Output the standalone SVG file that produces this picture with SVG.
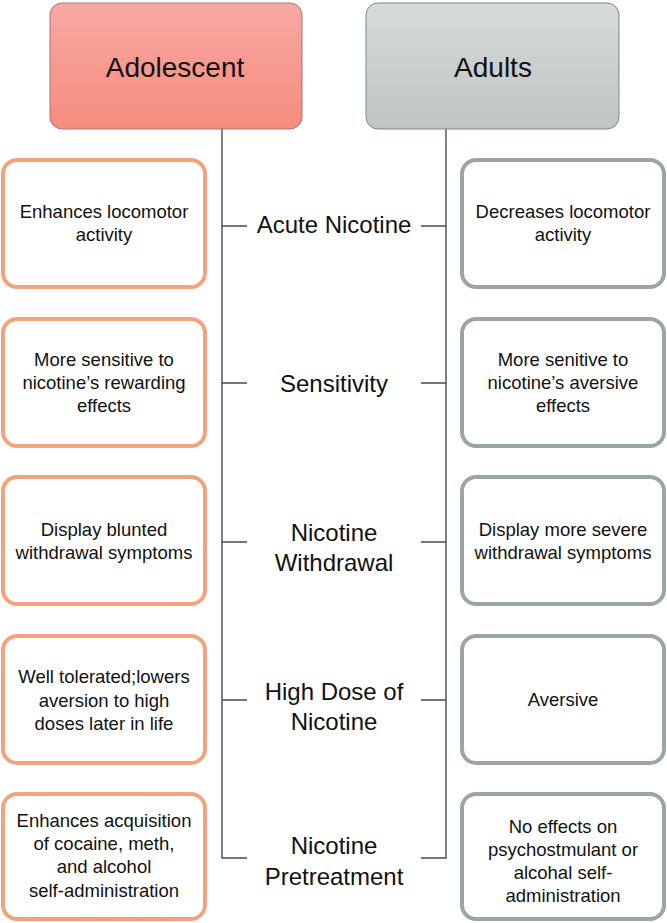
<svg xmlns="http://www.w3.org/2000/svg" width="667" height="923" viewBox="0 0 667 923">
<defs>
<linearGradient id="gA" x1="0" y1="0" x2="0" y2="1"><stop offset="0" stop-color="#f9a8a3"/><stop offset="1" stop-color="#f58b7e"/></linearGradient>
<linearGradient id="gB" x1="0" y1="0" x2="0" y2="1"><stop offset="0" stop-color="#d5dbd9"/><stop offset="1" stop-color="#bec5c3"/></linearGradient>
</defs>
<style>
text{font-family:"Liberation Sans",Arial,sans-serif;fill:#111;text-anchor:middle}
.hd{font-size:28px}
.lb{font-size:24px}
.bt{font-size:18.5px}
.ob{fill:#fff;stroke:#f4a27c;stroke-width:4}
.gb{fill:#fff;stroke:#9ba6a3;stroke-width:4}
.ln{fill:none;stroke:#4a4a4a;stroke-width:1.4}
</style>
<rect width="667" height="923" fill="#fff"/>
<g id="connectors">
<path class="ln" d="M222 129V858H247M222 226H247M222 383H247M222 542H247M222 700H247"/>
<path class="ln" d="M446 129V858H421M446 226H421M446 383H421M446 542H421M446 700H421"/>
</g>
<g id="adolescent"><rect x="50" y="3" width="252" height="126" rx="12" fill="url(#gA)" stroke="#a87470" stroke-width="1"/><text class="hd" x="175" y="77">Adolescent</text></g>
<g id="adults"><rect x="366" y="3" width="253" height="126" rx="12" fill="url(#gB)" stroke="#80878a" stroke-width="1"/><text class="hd" x="493" y="77">Adults</text></g>

<g id="label1"><text class="lb" x="334" y="233">Acute Nicotine</text></g>
<g id="label2"><text class="lb" x="334" y="392">Sensitivity</text></g>
<g id="label3"><text class="lb" x="334" y="541">Nicotine</text><text class="lb" x="334" y="571">Withdrawal</text></g>
<g id="label4"><text class="lb" x="334" y="700">High Dose of</text><text class="lb" x="334" y="730">Nicotine</text></g>
<g id="label5"><text class="lb" x="334" y="854">Nicotine</text><text class="lb" x="334" y="885">Pretreatment</text></g>

<g id="left1"><rect class="ob" x="3" y="160" width="202" height="127" rx="14"/><text class="bt" x="104" y="218">Enhances locomotor</text><text class="bt" x="104" y="241">activity</text></g>
<g id="left2"><rect class="ob" x="3" y="319" width="202" height="127" rx="14"/><text class="bt" x="104" y="366">More sensitive to</text><text class="bt" x="104" y="389">nicotine’s rewarding</text><text class="bt" x="104" y="412">effects</text></g>
<g id="left3"><rect class="ob" x="3" y="477" width="202" height="127" rx="14"/><text class="bt" x="104" y="536">Display blunted</text><text class="bt" x="104" y="559">withdrawal symptoms</text></g>
<g id="left4"><rect class="ob" x="3" y="636" width="202" height="127" rx="14"/><text class="bt" x="104" y="683">Well tolerated;lowers</text><text class="bt" x="104" y="707">aversion to high</text><text class="bt" x="104" y="730">doses later in life</text></g>
<g id="left5"><rect class="ob" x="3" y="794" width="202" height="125" rx="14"/><text class="bt" x="104" y="827">Enhances acquisition</text><text class="bt" x="104" y="850">of cocaine, meth,</text><text class="bt" x="104" y="873">and alcohol</text><text class="bt" x="104" y="897">self-administration</text></g>

<g id="right1"><rect class="gb" x="462" y="160" width="202" height="127" rx="14"/><text class="bt" x="563" y="218">Decreases locomotor</text><text class="bt" x="563" y="241">activity</text></g>
<g id="right2"><rect class="gb" x="462" y="319" width="202" height="127" rx="14"/><text class="bt" x="563" y="366">More senitive to</text><text class="bt" x="563" y="389">nicotine’s aversive</text><text class="bt" x="563" y="412">effects</text></g>
<g id="right3"><rect class="gb" x="462" y="477" width="202" height="127" rx="14"/><text class="bt" x="563" y="536">Display more severe</text><text class="bt" x="563" y="559">withdrawal symptoms</text></g>
<g id="right4"><rect class="gb" x="462" y="636" width="202" height="127" rx="14"/><text class="bt" x="563" y="706">Aversive</text></g>
<g id="right5"><rect class="gb" x="462" y="794" width="202" height="125" rx="14"/><text class="bt" x="563" y="833">No effects on</text><text class="bt" x="563" y="856">psychostmulant or</text><text class="bt" x="563" y="879">alcohal self-</text><text class="bt" x="563" y="902">administration</text></g>
</svg>
